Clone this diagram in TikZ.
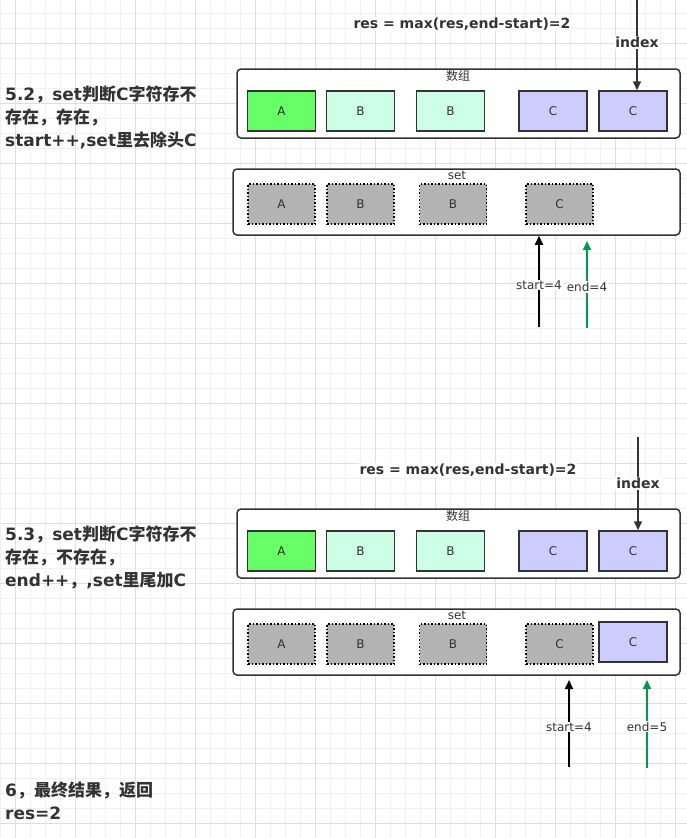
\documentclass[tikz,border=0pt]{standalone}
\usepackage{fontspec}
\setmainfont{DejaVu Sans}
\newfontfamily\cjk{Noto Sans CJK SC}
\newcommand\zh[1]{{\cjk #1}}
\usetikzlibrary{arrows.meta}

\definecolor{ink}{HTML}{333333}
\definecolor{gridmin}{HTML}{F0F0F0}
\definecolor{gridmaj}{HTML}{DEDEDE}
\definecolor{cellgreen}{HTML}{66FF66}
\definecolor{cellmint}{HTML}{CCFFE6}
\definecolor{celllav}{HTML}{CCCCFF}
\definecolor{cellgray}{HTML}{B3B3B3}
\definecolor{ptrgreen}{HTML}{00994D}

\tikzset{
	box/.style={draw=ink, line width=1.5pt, rounded corners=4pt, fill=white, inner sep=0pt},
	cell/.style={draw=ink, line width=1.5pt, minimum width=68pt, minimum height=40pt, inner sep=0pt, text=ink, font=\fontsize{12}{14}\selectfont},
	ghost/.style={cell, draw=black, dotted, fill=cellgray, minimum width=67pt},
	boxtitle/.style={text=ink, font=\fontsize{12}{14}\selectfont, inner sep=0pt},
	ptr/.style={line width=2pt, -{Triangle[length=9pt,width=8pt]}},
	ptrlabel/.style={fill=white, inner sep=1pt, text=ink, font=\fontsize{12}{14}\selectfont},
	idxlabel/.style={fill=white, inner sep=1pt, text=ink, font=\bfseries\fontsize{14}{16}\selectfont},
	note/.style={anchor=west, align=left, text=ink, inner sep=0pt, font=\bfseries\fontsize{17}{23}\selectfont},
}

\begin{document}
\begin{tikzpicture}[x=1pt, y=-1pt]
		%%%%% START %%%%%
		\useasboundingbox (0,0) rectangle (687,838);
		
		% background grid
		\foreach \gx in {0,15,...,687} \draw[gridmin, line width=0.8pt] (\gx,0) -- (\gx,838);
		\foreach \gy in {13,28,...,838} \draw[gridmin, line width=0.8pt] (0,\gy) -- (687,\gy);
		\foreach \gx in {15,75,...,687} \draw[gridmaj, line width=0.8pt] (\gx,0) -- (\gx,838);
		\foreach \gy in {43,103,...,838} \draw[gridmaj, line width=0.8pt] (0,\gy) -- (687,\gy);
		
		%%%%% 5.2 %%%%%
		\node[note] (p1note) at (5,117) {5.2\zh{，}set\zh{判断}C\zh{字符存不}\\\zh{存在，存在，}\\start++,set\zh{里去除头}C};
		\node[idxlabel] (p1res) at (462,24) {res = max(res,end-start)=2};
		
		\node[box, minimum width=443pt, minimum height=69pt] (p1arr) at (458.5,103.5) {};
		\node[boxtitle] (p1arrcap) at (458,76) {\zh{数组}};
		\node[cell, fill=cellgreen] (p1a) at (281.5,111) {A};
		\node[cell, fill=cellmint] (p1b) at (360.5,111) {B};
		\node[cell, fill=cellmint] (p1bb) at (450.5,111) {B};
		\node[cell, fill=celllav] (p1c) at (553,111) {C};
		\node[cell, fill=celllav] (p1cc) at (633,111) {C};
		
		\node[box, minimum width=447pt, minimum height=66pt] (p1set) at (456.5,202) {};
		\node[boxtitle] (p1setcap) at (457,175) {set};
		\node[ghost] (p1sa) at (281.5,204) {A};
		\node[ghost] (p1sb) at (360.5,204) {B};
		\node[ghost] (p1sbb) at (453,204) {B};
		\node[ghost] (p1sc) at (559.5,204) {C};
		
		\coordinate (p1idx) at (637,0);
		\draw[ptr, draw=ink, fill=ink, line width=1.5pt] (p1idx) -- node[idxlabel, pos=0.47] {index} (p1idx |- p1cc.north);
		\coordinate (p1st) at (539,327);
		\draw[ptr, fill=black] (p1st) -- node[ptrlabel, pos=0.46] {start=4} (p1st |- p1set.south);
		\coordinate (p1en) at (587,328);
		\coordinate (p1entip) at (587,241);
		\draw[ptr, draw=ptrgreen, fill=ptrgreen] (p1en) -- node[ptrlabel, pos=0.47] {end=4} (p1entip);
		
		%%%%% 5.3 %%%%%
		\node[note] (p2note) at (5,557) {5.3\zh{，}set\zh{判断}C\zh{字符存不}\\\zh{存在，不存在，}\\end++\zh{，},set\zh{里尾加}C};
		\node[idxlabel] (p2res) at (468,470) {res = max(res,end-start)=2};
		
		\node[box, minimum width=443pt, minimum height=69pt] (p2arr) at (458.5,543.5) {};
		\node[boxtitle] (p2arrcap) at (458,516) {\zh{数组}};
		\node[cell, fill=cellgreen] (p2a) at (281.5,551) {A};
		\node[cell, fill=cellmint] (p2b) at (360.5,551) {B};
		\node[cell, fill=cellmint] (p2bb) at (450.5,551) {B};
		\node[cell, fill=celllav] (p2c) at (553,551) {C};
		\node[cell, fill=celllav] (p2cc) at (633,551) {C};
		
		\node[box, minimum width=447pt, minimum height=66pt] (p2set) at (456.5,642) {};
		\node[boxtitle] (p2setcap) at (457,615) {set};
		\node[ghost] (p2sa) at (281.5,644) {A};
		\node[ghost] (p2sb) at (360.5,644) {B};
		\node[ghost] (p2sbb) at (453,644) {B};
		\node[ghost] (p2sc) at (559.5,644) {C};
		\node[cell, fill=celllav] (p2scc) at (633,642) {C};
		
		\coordinate (p2idx) at (638,437);
		\draw[ptr, draw=ink, fill=ink, line width=1.5pt] (p2idx) -- node[idxlabel, pos=0.5] {index} (p2idx |- p2cc.north);
		\coordinate (p2st) at (569,767);
		\coordinate (p2sttip) at (569,680);
		\draw[ptr, fill=black] (p2st) -- node[ptrlabel, pos=0.46] {start=4} (p2sttip);
		\coordinate (p2en) at (647,768);
		\coordinate (p2entip) at (647,680);
		\draw[ptr, draw=ptrgreen, fill=ptrgreen] (p2en) -- node[ptrlabel, pos=0.47] {end=5} (p2entip);
		
		%%%%% 6 %%%%%
		\node[note] (p3note) at (5,800.5) {6\zh{，最终结果，返回}\\res=2};
		
		%%%%% END %%%%%
\end{tikzpicture}
\end{document}
